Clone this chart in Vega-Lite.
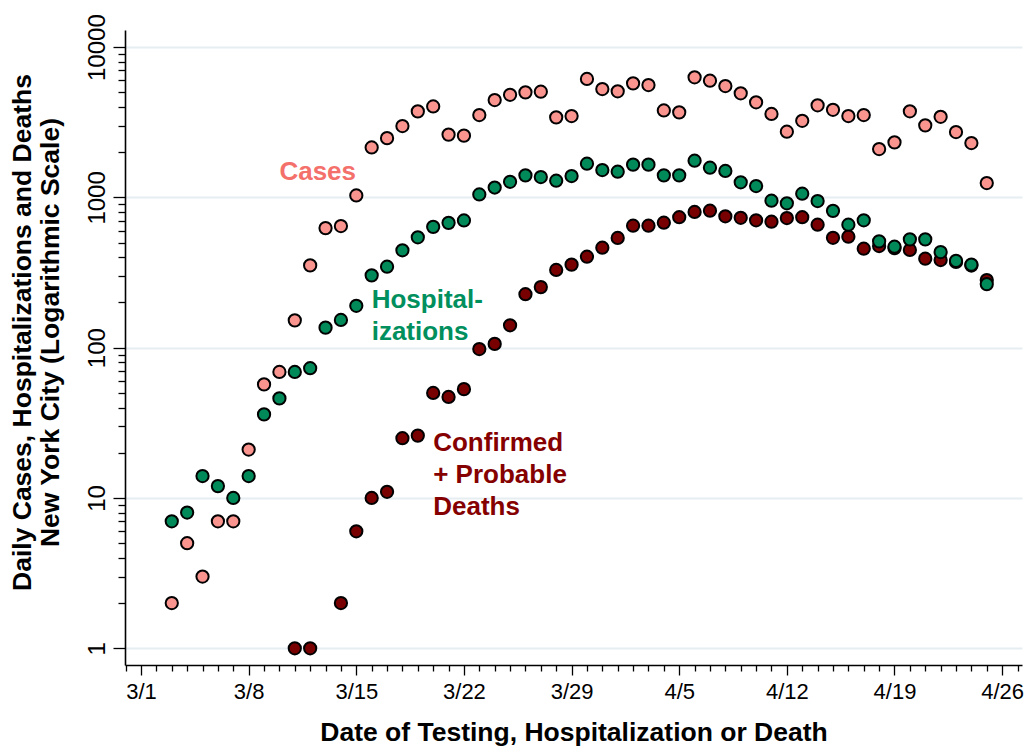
{
  "$schema": "https://vega.github.io/schema/vega-lite/v6.json",
  "width": 897,
  "height": 635,
  "autosize": {"type": "none"},
  "padding": {"left": 125, "top": 30, "right": 12, "bottom": 81},
  "background": "white",
  "config": {
    "view": {"stroke": null},
    "font": "Liberation Sans"
  },
  "datasets": {
    "series": [
      {"d": "2020-03-03", "s": "Cases", "n": 2},
      {"d": "2020-03-04", "s": "Cases", "n": 5},
      {"d": "2020-03-05", "s": "Cases", "n": 3},
      {"d": "2020-03-06", "s": "Cases", "n": 7},
      {"d": "2020-03-07", "s": "Cases", "n": 7},
      {"d": "2020-03-08", "s": "Cases", "n": 21},
      {"d": "2020-03-09", "s": "Cases", "n": 57},
      {"d": "2020-03-10", "s": "Cases", "n": 69},
      {"d": "2020-03-11", "s": "Cases", "n": 152},
      {"d": "2020-03-12", "s": "Cases", "n": 353},
      {"d": "2020-03-13", "s": "Cases", "n": 625},
      {"d": "2020-03-14", "s": "Cases", "n": 645},
      {"d": "2020-03-15", "s": "Cases", "n": 1030},
      {"d": "2020-03-16", "s": "Cases", "n": 2150},
      {"d": "2020-03-17", "s": "Cases", "n": 2480},
      {"d": "2020-03-18", "s": "Cases", "n": 2985},
      {"d": "2020-03-19", "s": "Cases", "n": 3735},
      {"d": "2020-03-20", "s": "Cases", "n": 4030},
      {"d": "2020-03-21", "s": "Cases", "n": 2618},
      {"d": "2020-03-22", "s": "Cases", "n": 2577},
      {"d": "2020-03-23", "s": "Cases", "n": 3533},
      {"d": "2020-03-24", "s": "Cases", "n": 4446},
      {"d": "2020-03-25", "s": "Cases", "n": 4820},
      {"d": "2020-03-26", "s": "Cases", "n": 5000},
      {"d": "2020-03-27", "s": "Cases", "n": 5050},
      {"d": "2020-03-28", "s": "Cases", "n": 3410},
      {"d": "2020-03-29", "s": "Cases", "n": 3477},
      {"d": "2020-03-30", "s": "Cases", "n": 6137},
      {"d": "2020-03-31", "s": "Cases", "n": 5260},
      {"d": "2020-04-01", "s": "Cases", "n": 5080},
      {"d": "2020-04-02", "s": "Cases", "n": 5740},
      {"d": "2020-04-03", "s": "Cases", "n": 5595},
      {"d": "2020-04-04", "s": "Cases", "n": 3790},
      {"d": "2020-04-05", "s": "Cases", "n": 3680},
      {"d": "2020-04-06", "s": "Cases", "n": 6297},
      {"d": "2020-04-07", "s": "Cases", "n": 5980},
      {"d": "2020-04-08", "s": "Cases", "n": 5510},
      {"d": "2020-04-09", "s": "Cases", "n": 4930},
      {"d": "2020-04-10", "s": "Cases", "n": 4296},
      {"d": "2020-04-11", "s": "Cases", "n": 3590},
      {"d": "2020-04-12", "s": "Cases", "n": 2735},
      {"d": "2020-04-13", "s": "Cases", "n": 3236},
      {"d": "2020-04-14", "s": "Cases", "n": 4100},
      {"d": "2020-04-15", "s": "Cases", "n": 3830},
      {"d": "2020-04-16", "s": "Cases", "n": 3477},
      {"d": "2020-04-17", "s": "Cases", "n": 3533},
      {"d": "2020-04-18", "s": "Cases", "n": 2099},
      {"d": "2020-04-19", "s": "Cases", "n": 2325},
      {"d": "2020-04-20", "s": "Cases", "n": 3740},
      {"d": "2020-04-21", "s": "Cases", "n": 3017},
      {"d": "2020-04-22", "s": "Cases", "n": 3441},
      {"d": "2020-04-23", "s": "Cases", "n": 2723},
      {"d": "2020-04-24", "s": "Cases", "n": 2300},
      {"d": "2020-04-25", "s": "Cases", "n": 1247},
      {"d": "2020-03-11", "s": "Deaths", "n": 1},
      {"d": "2020-03-12", "s": "Deaths", "n": 1},
      {"d": "2020-03-14", "s": "Deaths", "n": 2},
      {"d": "2020-03-15", "s": "Deaths", "n": 6},
      {"d": "2020-03-16", "s": "Deaths", "n": 10},
      {"d": "2020-03-17", "s": "Deaths", "n": 11},
      {"d": "2020-03-18", "s": "Deaths", "n": 25},
      {"d": "2020-03-19", "s": "Deaths", "n": 26},
      {"d": "2020-03-20", "s": "Deaths", "n": 50},
      {"d": "2020-03-21", "s": "Deaths", "n": 47},
      {"d": "2020-03-22", "s": "Deaths", "n": 53},
      {"d": "2020-03-23", "s": "Deaths", "n": 98},
      {"d": "2020-03-24", "s": "Deaths", "n": 106},
      {"d": "2020-03-25", "s": "Deaths", "n": 141},
      {"d": "2020-03-26", "s": "Deaths", "n": 227},
      {"d": "2020-03-27", "s": "Deaths", "n": 253},
      {"d": "2020-03-28", "s": "Deaths", "n": 329},
      {"d": "2020-03-29", "s": "Deaths", "n": 357},
      {"d": "2020-03-30", "s": "Deaths", "n": 403},
      {"d": "2020-03-31", "s": "Deaths", "n": 463},
      {"d": "2020-04-01", "s": "Deaths", "n": 537},
      {"d": "2020-04-02", "s": "Deaths", "n": 648},
      {"d": "2020-04-03", "s": "Deaths", "n": 648},
      {"d": "2020-04-04", "s": "Deaths", "n": 679},
      {"d": "2020-04-05", "s": "Deaths", "n": 738},
      {"d": "2020-04-06", "s": "Deaths", "n": 800},
      {"d": "2020-04-07", "s": "Deaths", "n": 816},
      {"d": "2020-04-08", "s": "Deaths", "n": 749},
      {"d": "2020-04-09", "s": "Deaths", "n": 732},
      {"d": "2020-04-10", "s": "Deaths", "n": 704},
      {"d": "2020-04-11", "s": "Deaths", "n": 689},
      {"d": "2020-04-12", "s": "Deaths", "n": 729},
      {"d": "2020-04-13", "s": "Deaths", "n": 738},
      {"d": "2020-04-14", "s": "Deaths", "n": 658},
      {"d": "2020-04-15", "s": "Deaths", "n": 539},
      {"d": "2020-04-16", "s": "Deaths", "n": 548},
      {"d": "2020-04-17", "s": "Deaths", "n": 456},
      {"d": "2020-04-18", "s": "Deaths", "n": 475},
      {"d": "2020-04-19", "s": "Deaths", "n": 460},
      {"d": "2020-04-20", "s": "Deaths", "n": 447},
      {"d": "2020-04-21", "s": "Deaths", "n": 391},
      {"d": "2020-04-22", "s": "Deaths", "n": 383},
      {"d": "2020-04-23", "s": "Deaths", "n": 372},
      {"d": "2020-04-24", "s": "Deaths", "n": 352},
      {"d": "2020-04-25", "s": "Deaths", "n": 282},
      {"d": "2020-03-03", "s": "Hospitalizations", "n": 7},
      {"d": "2020-03-04", "s": "Hospitalizations", "n": 8},
      {"d": "2020-03-05", "s": "Hospitalizations", "n": 14},
      {"d": "2020-03-06", "s": "Hospitalizations", "n": 12},
      {"d": "2020-03-07", "s": "Hospitalizations", "n": 10},
      {"d": "2020-03-08", "s": "Hospitalizations", "n": 14},
      {"d": "2020-03-09", "s": "Hospitalizations", "n": 36},
      {"d": "2020-03-10", "s": "Hospitalizations", "n": 46},
      {"d": "2020-03-11", "s": "Hospitalizations", "n": 69},
      {"d": "2020-03-12", "s": "Hospitalizations", "n": 73},
      {"d": "2020-03-13", "s": "Hospitalizations", "n": 136},
      {"d": "2020-03-14", "s": "Hospitalizations", "n": 153},
      {"d": "2020-03-15", "s": "Hospitalizations", "n": 190},
      {"d": "2020-03-16", "s": "Hospitalizations", "n": 303},
      {"d": "2020-03-17", "s": "Hospitalizations", "n": 346},
      {"d": "2020-03-18", "s": "Hospitalizations", "n": 445},
      {"d": "2020-03-19", "s": "Hospitalizations", "n": 543},
      {"d": "2020-03-20", "s": "Hospitalizations", "n": 637},
      {"d": "2020-03-21", "s": "Hospitalizations", "n": 677},
      {"d": "2020-03-22", "s": "Hospitalizations", "n": 703},
      {"d": "2020-03-23", "s": "Hospitalizations", "n": 1047},
      {"d": "2020-03-24", "s": "Hospitalizations", "n": 1164},
      {"d": "2020-03-25", "s": "Hospitalizations", "n": 1271},
      {"d": "2020-03-26", "s": "Hospitalizations", "n": 1402},
      {"d": "2020-03-27", "s": "Hospitalizations", "n": 1367},
      {"d": "2020-03-28", "s": "Hospitalizations", "n": 1291},
      {"d": "2020-03-29", "s": "Hospitalizations", "n": 1387},
      {"d": "2020-03-30", "s": "Hospitalizations", "n": 1675},
      {"d": "2020-03-31", "s": "Hospitalizations", "n": 1521},
      {"d": "2020-04-01", "s": "Hospitalizations", "n": 1482},
      {"d": "2020-04-02", "s": "Hospitalizations", "n": 1652},
      {"d": "2020-04-03", "s": "Hospitalizations", "n": 1652},
      {"d": "2020-04-04", "s": "Hospitalizations", "n": 1402},
      {"d": "2020-04-05", "s": "Hospitalizations", "n": 1402},
      {"d": "2020-04-06", "s": "Hospitalizations", "n": 1754},
      {"d": "2020-04-07", "s": "Hospitalizations", "n": 1577},
      {"d": "2020-04-08", "s": "Hospitalizations", "n": 1500},
      {"d": "2020-04-09", "s": "Hospitalizations", "n": 1260},
      {"d": "2020-04-10", "s": "Hospitalizations", "n": 1191},
      {"d": "2020-04-11", "s": "Hospitalizations", "n": 951},
      {"d": "2020-04-12", "s": "Hospitalizations", "n": 914},
      {"d": "2020-04-13", "s": "Hospitalizations", "n": 1059},
      {"d": "2020-04-14", "s": "Hospitalizations", "n": 946},
      {"d": "2020-04-15", "s": "Hospitalizations", "n": 814},
      {"d": "2020-04-16", "s": "Hospitalizations", "n": 658},
      {"d": "2020-04-17", "s": "Hospitalizations", "n": 704},
      {"d": "2020-04-18", "s": "Hospitalizations", "n": 510},
      {"d": "2020-04-19", "s": "Hospitalizations", "n": 470},
      {"d": "2020-04-20", "s": "Hospitalizations", "n": 526},
      {"d": "2020-04-21", "s": "Hospitalizations", "n": 526},
      {"d": "2020-04-22", "s": "Hospitalizations", "n": 433},
      {"d": "2020-04-23", "s": "Hospitalizations", "n": 378},
      {"d": "2020-04-24", "s": "Hospitalizations", "n": 357},
      {"d": "2020-04-25", "s": "Hospitalizations", "n": 265}
    ],
    "labels": [
      {"d": "2020-03-10", "s": "Cases", "n": 1480, "t": "Cases"},
      {"d": "2020-03-16", "s": "Hospitalizations", "n": 208, "t": "Hospital-\nizations"},
      {"d": "2020-03-20", "s": "Deaths", "n": 23.2, "t": "Confirmed\n+ Probable\nDeaths"}
    ]
  },
  "layer": [
    {
      "data": {"name": "series"},
      "mark": {"type": "point", "shape": "circle", "filled": true, "size": 150, "stroke": "black", "strokeWidth": 2, "opacity": 1},
      "encoding": {
        "x": {
          "field": "d", "type": "temporal",
          "scale": {"type": "utc", "domain": [{"year": 2020, "month": 2, "date": 28, "hours": 23, "utc": true}, {"year": 2020, "month": 4, "date": 27, "hours": 7, "utc": true}]},
          "axis": {
            "title": "Date of Testing, Hospitalization or Death",
            "titleFontSize": 26.5, "titleFontWeight": "bold", "titleColor": "black", "titlePadding": 17,
            "tickCount": {"interval": "day", "step": 1},
            "labelExpr": "(round((datum.value - utc(2020,2,1))/86400000) % 7 == 0) ? utcFormat(datum.value, '%-m/%-d') : ''",
            "labelOverlap": false, "labelBound": false, "labelFlush": false,
            "labelFontSize": 22, "labelColor": "black", "labelPadding": 6,
            "tickColor": "black", "tickWidth": 1.3,
            "tickSize": {"condition": {"test": "round((datum.value - utc(2020,2,1))/86400000) % 7 == 0", "value": 10}, "value": 6},
            "domainColor": "black", "domainWidth": 1.6,
            "grid": false
          }
        },
        "y": {
          "field": "n", "type": "quantitative",
          "scale": {"type": "log", "domain": [0.774, 13000], "nice": false},
          "axis": {
            "title": ["Daily Cases, Hospitalizations and Deaths", "New York City (Logarithmic Scale)"],
            "titleFontSize": 26.5, "titleFontWeight": "bold", "titleColor": "black", "titleLineHeight": 28, "titlePadding": 21,
            "titleY": 302,
            "values": [1,2,3,4,5,6,7,8,9,10,20,30,40,50,60,70,80,90,100,200,300,400,500,600,700,800,900,1000,2000,3000,4000,5000,6000,7000,8000,9000,10000],
            "labelExpr": "indexof([1,10,100,1000,10000], datum.value) >= 0 ? format(datum.value, 'd') : ''",
            "labelOverlap": false, "labelBound": false, "labelFlush": false,
            "labelAngle": 270, "labelAlign": "center", "labelBaseline": "bottom",
            "labelFontSize": 24, "labelColor": "black", "labelPadding": 4,
            "tickColor": "black", "tickWidth": 1.3,
            "tickSize": {"condition": {"test": "indexof([1,10,100,1000,10000], datum.value) >= 0", "value": 12}, "value": 7},
            "domainColor": "black", "domainWidth": 1.6,
            "grid": true, "gridColor": "#e6eef2", "gridWidth": 2,
            "gridOpacity": {"condition": {"test": "indexof([1,10,100,1000,10000], datum.value) >= 0", "value": 1}, "value": 0}
          }
        },
        "fill": {
          "field": "s", "type": "nominal",
          "scale": {"domain": ["Cases", "Hospitalizations", "Deaths"], "range": ["#f9948f", "#008a5a", "#780000"]},
          "legend": null
        }
      }
    },
    {
      "data": {"name": "labels"},
      "mark": {"type": "text", "align": "left", "baseline": "middle", "fontSize": 26, "fontWeight": "bold", "lineHeight": 32, "lineBreak": "\n"},
      "encoding": {
        "x": {"field": "d", "type": "temporal"},
        "y": {"field": "n", "type": "quantitative"},
        "text": {"field": "t"},
        "color": {
          "field": "s", "type": "nominal",
          "scale": {"domain": ["Cases", "Hospitalizations", "Deaths"], "range": ["#f4706b", "#008f5d", "#850000"]},
          "legend": null
        }
      }
    }
  ]
}
